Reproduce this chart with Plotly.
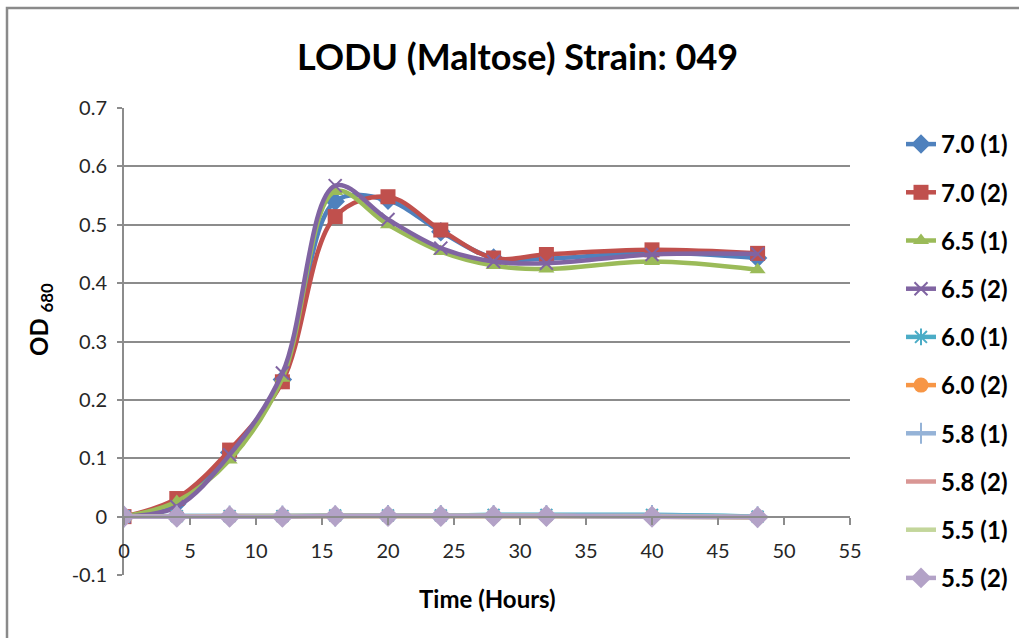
import plotly.graph_objects as go

# Sampling times (hours) and optical density readings at 680 nm
hours = [0, 4, 8, 12, 16, 20, 24, 28, 32, 40, 48]

od_70_1 = [0.000, 0.022, 0.110, 0.235, 0.540, 0.542, 0.488, 0.443, 0.442, 0.452, 0.443]
od_70_2 = [0.000, 0.031, 0.114, 0.231, 0.514, 0.548, 0.491, 0.443, 0.449, 0.457, 0.451]
od_65_1 = [0.000, 0.026, 0.097, 0.237, 0.557, 0.500, 0.454, 0.430, 0.424, 0.437, 0.423]
od_65_2 = [0.000, 0.017, 0.106, 0.246, 0.567, 0.509, 0.460, 0.437, 0.434, 0.449, 0.450]
od_60_1 = [0.000, 0.001, 0.001, 0.001, 0.002, 0.002, 0.002, 0.003, 0.003, 0.003, 0.000]
od_60_2 = [0.000, 0.000, 0.000, 0.000, 0.001, 0.001, 0.001, 0.001, 0.001, 0.001, -0.001]
od_58_1 = [0.000, 0.001, 0.001, 0.001, 0.001, 0.002, 0.002, 0.002, 0.002, 0.002, 0.000]
od_58_2 = [0.000, 0.000, 0.001, 0.001, 0.001, 0.001, 0.001, 0.001, 0.001, 0.000, -0.001]
od_55_1 = [0.000, 0.000, 0.000, 0.001, 0.001, 0.001, 0.001, 0.001, 0.001, 0.000, -0.001]
od_55_2 = [0.000, 0.000, 0.000, 0.000, 0.001, 0.001, 0.001, 0.001, 0.001, 0.000, -0.001]

series_names = ["7.0 (1)", "7.0 (2)", "6.5 (1)", "6.5 (2)", "6.0 (1)",
                "6.0 (2)", "5.8 (1)", "5.8 (2)", "5.5 (1)", "5.5 (2)"]
series_values = [od_70_1, od_70_2, od_65_1, od_65_2, od_60_1,
                 od_60_2, od_58_1, od_58_2, od_55_1, od_55_2]

x_ticks = [0, 5, 10, 15, 20, 25, 30, 35, 40, 45, 50, 55]
y_ticks = [-0.1, 0, 0.1, 0.2, 0.3, 0.4, 0.5, 0.6, 0.7]

# Office-style palette and marker symbols for each series
colors = ["#4F81BD", "#C0504D", "#9BBB59", "#8064A2", "#4BACC6",
          "#F79646", "#95B3D7", "#D99694", "#C3D69B", "#B3A2C7"]
symbols = ["diamond", "square", "triangle-up", "x-thin-open", "asterisk-open",
           "circle", "cross-thin-open", None, None, "diamond"]
sizes = [15, 15, 14, 13, 14, 15, 15, 0, 0, 17]

FONT = "Lato"
GRID = "#8c8c8c"

fig = go.Figure()
for name, vals, col, sym, sz in zip(series_names, series_values, colors, symbols, sizes):
    if sym is None:
        mode = "lines"
        marker = None
    else:
        mode = "lines+markers"
        if sym.endswith("-open"):
            marker = dict(symbol=sym, size=sz, color=col, line=dict(color=col, width=2))
        else:
            marker = dict(symbol=sym, size=sz, color=col, line=dict(width=0))
    fig.add_trace(go.Scatter(
        x=hours, y=vals, name=name, legendgroup=name, mode=mode,
        line=dict(color=col, width=4.5, shape="spline", smoothing=1.0),
        marker=marker,
    ))

fig.update_layout(
    width=1019, height=638,
    margin=dict(l=124, r=169, t=108, b=63, autoexpand=False),
    paper_bgcolor="white", plot_bgcolor="white",
    font=dict(family=FONT, color="#000000"),
    title=dict(text="<b>LODU (Maltose) Strain: 049</b>", font=dict(size=36, family=FONT),
               x=0.508, xref="container", xanchor="center",
               y=1 - 57 / 638, yref="container", yanchor="middle"),
    xaxis=dict(
        range=[0, 55], tickvals=x_ticks, ticktext=[str(v) for v in x_ticks],
        showgrid=False, zeroline=False,
        showline=True, linecolor=GRID, linewidth=2,
        ticks="outside", ticklen=7, tickwidth=1.5, tickcolor=GRID,
        anchor="free", position=0.125,
        tickfont=dict(size=20, family=FONT, color="#262626"),
        ticklabelstandoff=9,
    ),
    yaxis=dict(
        range=[-0.1, 0.7], tickvals=y_ticks,
        ticktext=["-0.1", "0", "0.1", "0.2", "0.3", "0.4", "0.5", "0.6", "0.7"],
        showgrid=True, gridcolor=GRID, gridwidth=2, zeroline=False,
        showline=True, linecolor=GRID, linewidth=2,
        ticks="outside", ticklen=5, tickwidth=1.5, tickcolor=GRID,
        tickfont=dict(size=20, family=FONT, color="#262626"),
        ticklabelstandoff=6,
    ),
    legend=dict(
        x=(901 - 124) / 726, xanchor="left", y=(575 - 122) / 467, yanchor="top",
        font=dict(size=24, family=FONT, color="#000000", weight="bold"),
        tracegroupgap=14, bgcolor="rgba(0,0,0,0)", maxheight=620,
    ),
    showlegend=True,
)

# Axis titles
fig.add_annotation(text="<b>Time (Hours)</b>", xref="paper", yref="paper",
                   x=0.5, y=(575 - 598) / 467, xanchor="center", yanchor="middle",
                   showarrow=False, font=dict(size=24, family=FONT, color="#000000"))
fig.add_annotation(text="<b>OD <sub>680</sub></b>", xref="paper", yref="paper",
                   x=(40 - 124) / 726, y=(575 - 320) / 467, xanchor="center", yanchor="middle",
                   textangle=-90, showarrow=False,
                   font=dict(size=24, family=FONT, color="#000000"))

# Chart-area frame
fig.add_shape(type="rect", xref="paper", yref="paper",
              x0=(7 - 124) / 726, x1=(1030 - 124) / 726,
              y0=(575 - 650) / 467, y1=(575 - 8) / 467,
              line=dict(color="#8a8a8a", width=2.5), fillcolor="rgba(0,0,0,0)", layer="below")

fig.write_html("out.html")
